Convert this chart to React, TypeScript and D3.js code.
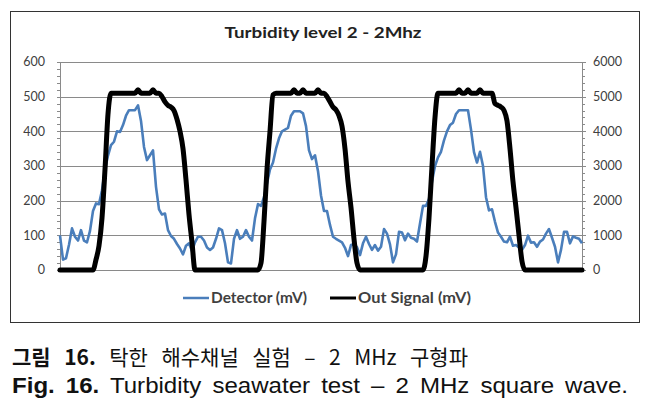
import React, { useLayoutEffect, useRef, useState } from "react";
import * as d3 from "d3";

const title = "Turbidity level 2  -  2Mhz";
const seriesNames = ["Detector (mV)", "Out Signal (mV)"];
const leftTicks = [0, 100, 200, 300, 400, 500, 600];
const rightTicks = [0, 1000, 2000, 3000, 4000, 5000, 6000];
const captionKo = ["그림 16.", " 탁한 해수채널 실험 – 2 MHz 구형파"];
const captionEn = ["Fig. 16.", " Turbidity seawater test – 2 MHz square wave."];

// Detector (mV) – primary axis
const detector = [
  100, 30, 34, 73, 120, 96, 85, 115, 85, 80,
  113, 170, 192, 190, 230, 290, 330, 360, 370, 400,
  398, 418, 445, 461, 461, 461, 475, 430, 355, 317,
  331, 345, 240, 175, 160, 163, 115, 98, 90, 75,
  62, 45, 70, 77, 55, 80, 96, 96, 85, 65,
  58, 65, 90, 120, 115, 77, 22, 19, 90, 115,
  90, 96, 115, 96, 85, 149, 190, 185, 210, 250,
  290, 310, 350, 380, 400, 405, 410, 445, 458, 458,
  458, 452, 415, 345, 320, 331, 285, 215, 170, 170,
  130, 96, 90, 85, 80, 64, 40, 72, 75, 66,
  43, 77, 96, 75, 58, 72, 56, 67, 118, 105,
  74, 22, 45, 110, 108, 86, 105, 93, 90, 82,
  134, 185, 185, 205, 255, 300, 325, 341, 374, 400,
  418, 425, 450, 461, 461, 461, 461, 405, 340, 310,
  341, 300, 210, 172, 175, 139, 108, 96, 82, 80,
  96, 70, 72, 65, 58, 72, 99, 79, 80, 67,
  82, 88, 105, 118, 93, 67, 22, 58, 110, 110,
  77, 97, 93, 90, 77,
];

// Out Signal (mV) – secondary axis
const outSignal = [
  0, 0, 0, 0, 0, 0, 0, 0, 0, 0, 0, 0,
  300, 700, 1500, 2900, 4500, 5100,
  5100, 5100, 5100, 5100, 5100, 5100, 5100, 5100, 5200, 5100, 5100, 5100, 5100, 5200, 5100, 5100,
  5000, 4850, 4750, 4700, 4600, 4350, 4000, 3500, 2600, 1600, 800,
  0, 0, 0, 0, 0, 0, 0, 0, 0, 0, 0, 0, 0, 0, 0, 0, 0, 0, 0, 0, 0, 0,
  200, 1400, 2900, 4000, 5050,
  5100, 5100, 5100, 5100, 5100, 5100, 5200, 5100, 5100, 5200, 5100, 5100, 5100, 5100, 5200, 5100, 5100,
  5000, 4850, 4700, 4620, 4450, 4150, 3500, 2550, 1800, 900, 200,
  0, 0, 0, 0, 0, 0, 0, 0, 0, 0, 0, 0, 0, 0, 0, 0, 0, 0, 0, 0, 0, 0,
  400, 1500, 3000, 4400, 5100,
  5100, 5100, 5100, 5100, 5100, 5100, 5200, 5100, 5100, 5200, 5100, 5100, 5100, 5200, 5100, 5100, 5100, 5100,
  4800, 4750, 4700, 4600, 4300, 3500, 2550, 1800, 1000, 250,
  0, 0, 0, 0, 0, 0, 0, 0, 0, 0, 0, 0, 0, 0, 0, 0, 0, 0, 0, 0,
];

const W = 658;
const H = 408;
const plot = { left: 60, right: 582, top: 62, bottom: 270 };
const font = "Lato, 'Open Sans', sans-serif";
const labelColor = "#404040";
const gridColor = "#8a8a8a";
const blue = "#4a7ebb";
const koWidth = 456;
const enWidth = 616;

export default function App() {
  const koRef = useRef<SVGTextElement>(null);
  const [koWs, setKoWs] = useState(0);

  useLayoutEffect(() => {
    const ko = koRef.current;
    if (!ko) return;
    const koSpaces = (captionKo.join("").match(/ /g) || []).length;
    const kw = ko.getComputedTextLength();
    setKoWs(Math.max(0, (koWidth - kw) / koSpaces));
  }, []);

  const n = detector.length;
  const x = d3.scaleLinear().domain([0, n - 1]).range([plot.left, plot.right]);
  const yL = d3.scaleLinear().domain([0, 600]).range([plot.bottom, plot.top]);
  const yR = d3.scaleLinear().domain([0, 6000]).range([plot.bottom, plot.top]);

  const lineL = d3.line<number>().x((_, i) => x(i)).y((d) => yL(d));
  const lineR = d3
    .line<number>()
    .x((_, i) => x(i))
    .y((d) => yR(d))
    .curve(d3.curveMonotoneX);

  const minorL = d3.range(0, 601, 20);
  const minorR = d3.range(0, 6001, 200);

  return (
    <svg
      width={W}
      height={H}
      style={{ position: "absolute", left: 0, top: 0, background: "#fff" }}
    >
      <rect x={0} y={0} width={W} height={H} fill="#fff" />
      <rect x={10.5} y={11.5} width={629} height={311} fill="#fff" stroke="#333" strokeWidth={1} />

      <text
        x={323}
        y={38}
        textAnchor="middle"
        fontFamily={font}
        fontWeight={700}
        fontSize={15}
        fill="#222"
        textLength={197}
        lengthAdjust="spacingAndGlyphs"
      >
        {title}
      </text>

      {/* gridlines */}
      {leftTicks.map((t) => (
        <line
          key={"g" + t}
          x1={plot.left}
          x2={plot.right}
          y1={Math.round(yL(t)) + 0.5}
          y2={Math.round(yL(t)) + 0.5}
          stroke={gridColor}
          strokeWidth={1}
        />
      ))}

      {/* axes */}
      <line x1={plot.left + 0.5} x2={plot.left + 0.5} y1={plot.top} y2={plot.bottom} stroke={gridColor} />
      <line x1={plot.right + 0.5} x2={plot.right + 0.5} y1={plot.top} y2={plot.bottom} stroke={gridColor} />
      {minorL.map((t) => (
        <line
          key={"ml" + t}
          x1={plot.left - 3}
          x2={plot.left}
          y1={Math.round(yL(t)) + 0.5}
          y2={Math.round(yL(t)) + 0.5}
          stroke={gridColor}
        />
      ))}
      {minorR.map((t) => (
        <line
          key={"mr" + t}
          x1={plot.right}
          x2={plot.right + (t % 1000 === 0 ? 4 : 3)}
          y1={Math.round(yR(t)) + 0.5}
          y2={Math.round(yR(t)) + 0.5}
          stroke={gridColor}
        />
      ))}

      {leftTicks.map((t) => (
        <text
          key={"tl" + t}
          x={45}
          y={yL(t)}
          dy="0.35em"
          textAnchor="end"
          fontFamily={font}
          fontSize={12.5}
          fill={labelColor}
        >
          {t}
        </text>
      ))}
      {rightTicks.map((t) => (
        <text
          key={"tr" + t}
          x={593}
          y={yR(t)}
          dy="0.35em"
          textAnchor="start"
          fontFamily={font}
          fontSize={12.5}
          fill={labelColor}
        >
          {t}
        </text>
      ))}

      {/* series */}
      <path d={lineL(detector) || ""} fill="none" stroke={blue} strokeWidth={2.6} strokeLinejoin="round" />
      <path d={lineR(outSignal) || ""} fill="none" stroke="#000" strokeWidth={5} strokeLinejoin="round" strokeLinecap="round" />

      {/* legend */}
      <line x1={183} x2={209} y1={298} y2={298} stroke={blue} strokeWidth={2.5} />
      <text
        x={211}
        y={298}
        dy="0.35em"
        fontFamily={font}
        fontSize={14.5}
        fontWeight={700}
        fill={labelColor}
        textLength={96}
        lengthAdjust="spacingAndGlyphs"
      >
        {seriesNames[0]}
      </text>
      <line x1={330} x2={356} y1={298} y2={298} stroke="#000" strokeWidth={3} />
      <text
        x={358}
        y={298}
        dy="0.35em"
        fontFamily={font}
        fontSize={14.5}
        fontWeight={700}
        fill={labelColor}
        textLength={113}
        lengthAdjust="spacingAndGlyphs"
      >
        {seriesNames[1]}
      </text>

      {/* captions */}
      <text
        ref={koRef}
        x={12}
        y={365}
        fontFamily="'Noto Sans CJK KR', sans-serif"
        fontSize={21}
        fill="#111"
        wordSpacing={koWs}
      >
        <tspan fontWeight={700}>{captionKo[0]}</tspan>
        <tspan>{captionKo[1]}</tspan>
      </text>
      <text
        x={12}
        y={393}
        fontFamily="'Liberation Sans', Arial, sans-serif"
        fontSize={22}
        fill="#111"
        wordSpacing={4}
        textLength={enWidth}
        lengthAdjust="spacingAndGlyphs"
      >
        <tspan fontWeight={700}>{captionEn[0]}</tspan>
        <tspan>{captionEn[1]}</tspan>
      </text>
    </svg>
  );
}
